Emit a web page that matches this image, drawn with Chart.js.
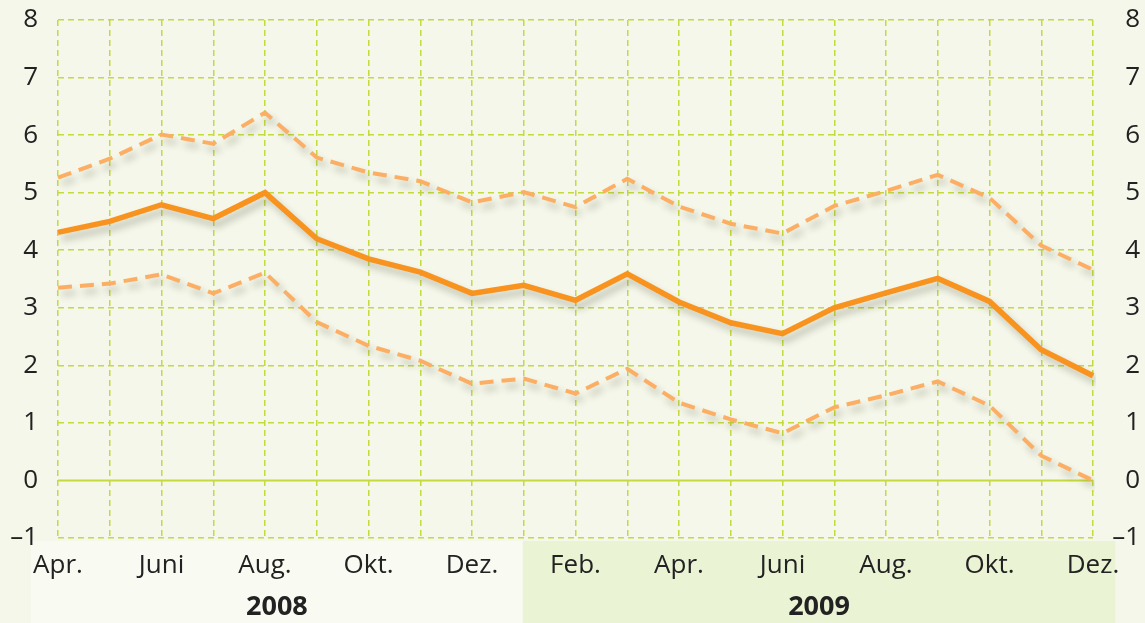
<!DOCTYPE html>
<html>
<head>
<meta charset="utf-8">
<script src="https://cdn.jsdelivr.net/npm/chart.js@4"></script>
<style>
  html, body { margin: 0; padding: 0; background: #f4f7e9; }
  #wrap { width: 1145px; height: 623px; position: relative; }
</style>
</head>
<body>
<div id="wrap"><canvas id="chart"></canvas></div>
<script>
// Monthly values Apr 2008 - Dez 2009
const months = ['Apr.', 'Mai', 'Juni', 'Juli', 'Aug.', 'Sep.', 'Okt.', 'Nov.', 'Dez.',
                'Jan.', 'Feb.', 'März', 'Apr.', 'Mai', 'Juni', 'Juli', 'Aug.', 'Sep.', 'Okt.', 'Nov.', 'Dez.'];
const years = ['2008', '2009'];
const yearStart = [0, 9];   // index of the first month of each year

const mainSeries  = [4.31, 4.50, 4.79, 4.55, 5.00, 4.20, 3.85, 3.62, 3.25, 3.39, 3.13, 3.59, 3.10, 2.74, 2.55, 3.00, 3.26, 3.51, 3.11, 2.27, 1.82];
const upperSeries = [5.26, 5.59, 6.01, 5.85, 6.39, 5.61, 5.35, 5.20, 4.83, 5.01, 4.75, 5.24, 4.76, 4.46, 4.29, 4.77, 5.03, 5.31, 4.91, 4.08, 3.66];
const lowerSeries = [3.35, 3.42, 3.58, 3.25, 3.61, 2.75, 2.34, 2.08, 1.68, 1.77, 1.51, 1.94, 1.35, 1.06, 0.82, 1.27, 1.48, 1.72, 1.30, 0.43, 0.00];

const gridColor = '#c4da3e';
const tickFont = { family: "'Open Sans', sans-serif", size: 26 };

function yLabel(v) {
    return v < 0 ? '\u2013' + Math.abs(v) : String(v);
}

// y axes: fixed width, and don't let tick padding push the plot down
function fitY(width) {
    return function (scale) {
        scale.width = width;
        scale.paddingTop = 0;
        scale.paddingBottom = 0;
    };
}

// page background, year bands and year captions
const bandsPlugin = {
    id: 'bands',
    beforeDraw(chart) {
        const ctx = chart.ctx;
        const x = chart.scales.x;
        const step = x.getPixelForValue(1) - x.getPixelForValue(0);
        ctx.save();
        ctx.fillStyle = '#f4f7e9';
        ctx.fillRect(0, 0, chart.width, chart.height);
        const top = chart.chartArea.bottom + 3;
        const left = x.getPixelForValue(0) - step * 0.52;
        const mid = x.getPixelForValue(yearStart[1]) - 1;
        const right = x.getPixelForValue(months.length - 1) + step * 0.43;
        ctx.fillStyle = '#f9fbf3';
        ctx.fillRect(left, top, mid - left, chart.height - top);
        ctx.fillStyle = '#ebf3d5';
        ctx.fillRect(mid, top, right - mid, chart.height - top);
        ctx.fillStyle = '#222';
        ctx.font = "bold 27px 'Open Sans', sans-serif";
        ctx.textAlign = 'center';
        ctx.textBaseline = 'alphabetic';
        ctx.fillText(years[0], (left + mid) / 2, 615);
        ctx.fillText(years[1], (mid + right) / 2, 615);
        ctx.restore();
    },
    beforeDatasetsDraw(chart) {
        // solid zero line
        const ctx = chart.ctx;
        const y0 = chart.scales.y.getPixelForValue(0);
        ctx.save();
        ctx.strokeStyle = gridColor;
        ctx.lineWidth = 2;
        ctx.beginPath();
        ctx.moveTo(chart.chartArea.left, y0);
        ctx.lineTo(chart.chartArea.right, y0);
        ctx.stroke();
        ctx.restore();
    }
};

// soft drop shadow under the lines
const shadowPlugin = {
    id: 'lineShadow',
    beforeDatasetDraw(chart) {
        const ctx = chart.ctx;
        ctx.save();
        ctx.shadowColor = 'rgba(60, 60, 40, 0.28)';
        ctx.shadowBlur = 7;
        ctx.shadowOffsetX = 4;
        ctx.shadowOffsetY = 6;
    },
    afterDatasetDraw(chart) {
        chart.ctx.restore();
    }
};

const ctx = document.getElementById('chart').getContext('2d');
new Chart(ctx, {
    type: 'line',
    data: {
        labels: months,
        datasets: [
            {
                data: mainSeries,
                borderColor: '#f7931e',
                borderWidth: 5.5,
                pointRadius: 0,
                tension: 0,
                order: 0
            },
            {
                data: upperSeries,
                borderColor: '#fcae64',
                borderWidth: 4,
                borderDash: [14, 8],
                pointRadius: 0,
                tension: 0,
                order: 1
            },
            {
                data: lowerSeries,
                borderColor: '#fcae64',
                borderWidth: 4,
                borderDash: [14, 8],
                pointRadius: 0,
                tension: 0,
                order: 2
            }
        ]
    },
    options: {
        responsive: true,
        maintainAspectRatio: false,
        animation: false,
        layout: { padding: { top: 20, left: 0, right: 5, bottom: 0 } },
        plugins: {
            legend: { display: false },
            tooltip: { enabled: false }
        },
        scales: {
            x: {
                grid: { color: gridColor, lineWidth: 1.5, drawTicks: false },
                border: { display: false, dash: [6, 4] },
                ticks: {
                    autoSkip: false,
                    maxRotation: 0,
                    padding: 12,
                    color: '#222',
                    font: tickFont,
                    callback: (v, i) => i % 2 === 0 ? months[i] : ''
                },
                afterFit(scale) { scale.height = 85; }
            },
            y: {
                position: 'left',
                min: -1,
                max: 8,
                grid: {
                    color: (c) => c.tick && c.tick.value === 0 ? 'rgba(0,0,0,0)' : gridColor,
                    lineWidth: 1.5,
                    drawTicks: false
                },
                border: { display: false, dash: [6, 4] },
                ticks: {
                    stepSize: 1,
                    padding: 20,
                    color: '#222',
                    font: tickFont,
                    callback: yLabel
                },
                afterFit: fitY(58)
            },
            y2: {
                position: 'right',
                min: -1,
                max: 8,
                grid: { display: false, drawTicks: false },
                border: { display: false },
                ticks: {
                    stepSize: 1,
                    padding: 11,
                    crossAlign: 'far',
                    color: '#222',
                    font: tickFont,
                    callback: yLabel
                },
                afterFit: fitY(47)
            }
        }
    },
    plugins: [bandsPlugin, shadowPlugin]
});
</script>
</body>
</html>
